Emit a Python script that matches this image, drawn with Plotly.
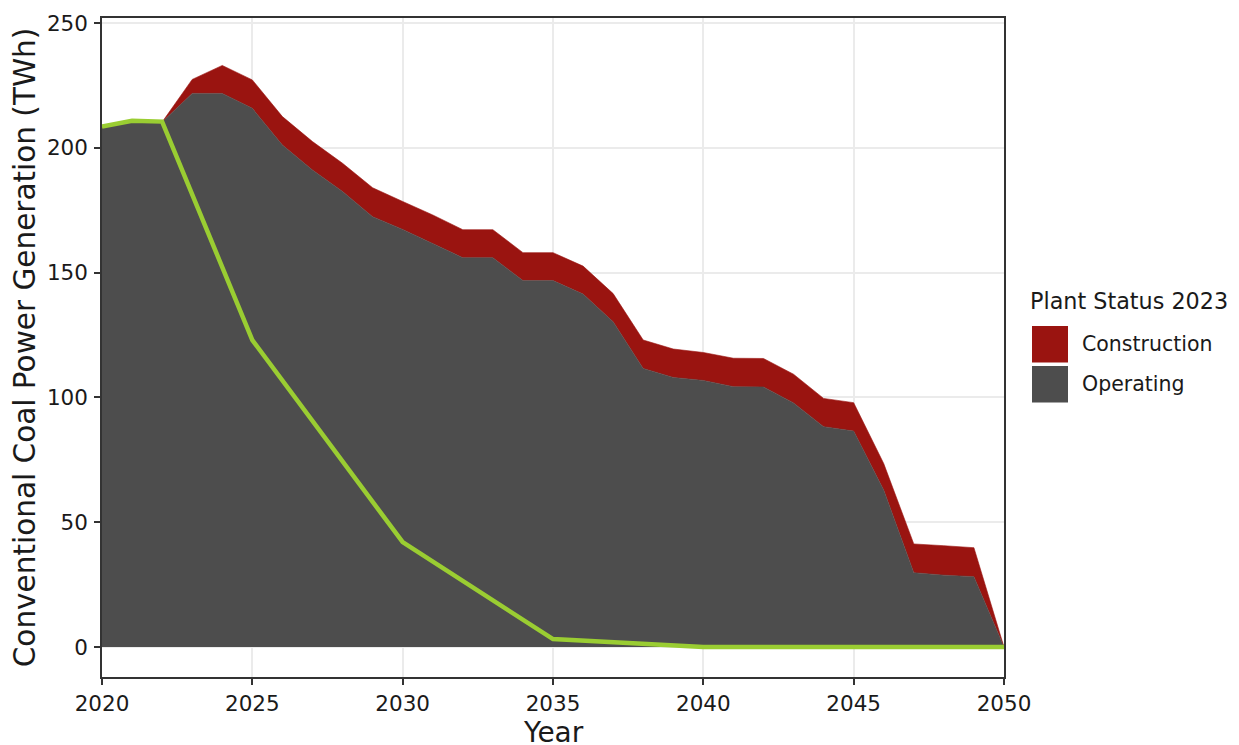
import plotly.graph_objects as go

years = list(range(2020, 2051))

operating = [208.0, 210.5, 210.3, 221.8, 221.8, 215.8, 201.1, 191.1, 182.5, 172.4,
             167.3, 161.7, 156.0, 156.0, 146.8, 146.8, 141.4, 130.3, 111.6, 108.0,
             106.8, 104.3, 104.2, 97.8, 88.3, 86.5, 62.9, 29.8, 28.8, 28.2, 0.0]

construction = [0.0, 0.0, 0.0, 5.6, 11.2, 11.4, 11.4, 11.4, 11.3, 11.6,
                11.2, 11.4, 11.2, 11.2, 11.2, 11.2, 11.2, 11.3, 11.4, 11.4,
                11.2, 11.4, 11.4, 11.5, 11.3, 11.4, 10.6, 11.5, 11.8, 11.6, 0.0]

pathway_years = [2020, 2021, 2022, 2025, 2030, 2035, 2040, 2045, 2050]
pathway = [208.5, 210.8, 210.5, 123.0, 42.0, 3.2, 0.0, 0.0, 0.0]

legend_labels = ["Construction", "Operating"]
legend_title = "Plant Status 2023"
x_title = "Year"
y_title = "Conventional Coal Power Generation (TWh)"

RED = "#9a1410"
GREY = "#4d4d4d"
GREEN = "#9acd32"
FONT = "DejaVu Sans"

fig = go.Figure()
fig.add_trace(go.Scatter(x=years, y=operating, stackgroup="s", mode="lines",
                         line=dict(width=0.6, color=GREY), fillcolor=GREY,
                         name="Operating", showlegend=False))
fig.add_trace(go.Scatter(x=years, y=construction, stackgroup="s", mode="lines",
                         line=dict(width=0.6, color=RED), fillcolor=RED,
                         name="Construction", showlegend=False))
fig.add_trace(go.Scatter(x=pathway_years, y=pathway, mode="lines",
                         line=dict(width=4.5, color=GREEN), showlegend=False))

# page body has an 8px margin: compensate so the plot lands where the reference has it
OFF = 8
W, H = 1239 - OFF, 745 - OFF
L, R, T, B = 102 - OFF, 235, 18 - OFF, 68
pw, ph = W - L - R, H - T - B
def px(x):
    return (x - OFF - L) / pw
def py(y):
    return (H - B - (y - OFF)) / ph

shapes = []
annotations = []
for i, (lab, col) in enumerate(zip(legend_labels, [RED, GREY])):
    top = 326 + i * 40
    shapes.append(dict(type="rect", xref="paper", yref="paper",
                       x0=px(1032), x1=px(1068), y0=py(top + 36.5), y1=py(top),
                       fillcolor=col, line=dict(width=0)))
    annotations.append(dict(xref="paper", yref="paper", x=px(1080), y=py(top + 18),
                            text=lab, showarrow=False, xanchor="left", yanchor="middle",
                            font=dict(family=FONT, size=20.5, color="#1a1a1a")))
annotations.append(dict(xref="paper", yref="paper", x=px(1028), y=py(301),
                        text=legend_title, showarrow=False, xanchor="left", yanchor="middle",
                        font=dict(family=FONT, size=22.3, color="#1a1a1a")))
annotations.append(dict(xref="paper", yref="paper", x=px(553), y=py(733),
                        text=x_title, showarrow=False, xanchor="center", yanchor="middle",
                        font=dict(family=FONT, size=28, color="#1a1a1a")))

axis_common = dict(showline=True, mirror=True, linecolor="#333333", linewidth=1.5,
                   ticks="outside", ticklen=6, tickwidth=1.5, tickcolor="#333333",
                   showgrid=True, gridcolor="#ebebeb", gridwidth=1.5, zeroline=False,
                   automargin=False,
                   tickfont=dict(family=FONT, size=21.5, color="#1a1a1a"))

fig.update_layout(
    width=W, height=H,
    margin=dict(l=L, r=R, t=T, b=B),
    paper_bgcolor="white", plot_bgcolor="white",
    font=dict(family=FONT, color="#1a1a1a"),
    xaxis=dict(range=[2020, 2050], tickvals=[2020, 2025, 2030, 2035, 2040, 2045, 2050],
               **axis_common),
    yaxis=dict(range=[-12, 252], tickvals=[0, 50, 100, 150, 200, 250],
               ticklabelstandoff=2,
               title=dict(text=y_title, font=dict(family=FONT, size=29.5), standoff=4),
               **axis_common),
    shapes=shapes, annotations=annotations,
)

fig.write_html("out.html")
